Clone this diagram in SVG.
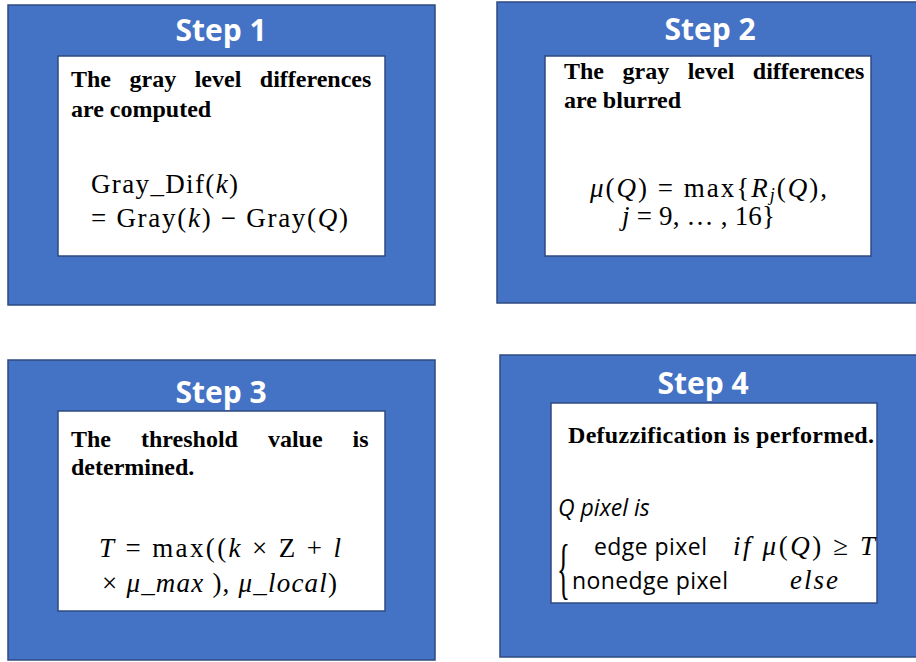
<svg xmlns="http://www.w3.org/2000/svg" width="916" height="662" viewBox="0 0 916 662">
<style>
.outer{fill:#4472C4;stroke:#2F4B80;stroke-width:1.5}
.inner{fill:#FFFFFF;stroke:#2F4B80;stroke-width:1.5}
.title{font-family:"Open Sans","Liberation Sans",sans-serif;font-weight:bold;font-size:30px;fill:#FFFFFF;text-anchor:middle}
.desc{font-family:"Liberation Serif",serif;font-weight:bold;font-size:24px;fill:#000}
.math{font-family:"Liberation Serif",serif;font-size:27px;fill:#000}
.it{font-style:italic}
.sans{font-family:"Open Sans","Liberation Sans",sans-serif;font-size:23px;fill:#000}
</style>
<rect width="916" height="662" fill="#FFFFFF"/>
<g id="step1">
<rect class="outer" x="8" y="5" width="427" height="300"/>
<text class="title" x="221" y="41">Step 1</text>
<rect class="inner" x="58" y="56" width="327" height="200"/>
<text class="desc" x="71" y="87" word-spacing="12.5">The gray level differences</text>
<text class="desc" x="71" y="117">are computed</text>
<text class="math" x="91" y="193" textLength="147" lengthAdjust="spacing">Gray_Dif(<tspan class="it">k</tspan>)</text>
<text class="math" x="91" y="227" textLength="257" lengthAdjust="spacing">= Gray(<tspan class="it">k</tspan>) − Gray(<tspan class="it">Q</tspan>)</text>
</g>
<g id="step2">
<rect class="outer" x="497" y="2" width="425" height="301"/>
<text class="title" x="710" y="40">Step 2</text>
<rect class="inner" x="545" y="56" width="326" height="200"/>
<text class="desc" x="564" y="79" word-spacing="12.5">The gray level differences</text>
<text class="desc" x="564" y="108">are blurred</text>
<text class="math" x="590" y="197" textLength="237" lengthAdjust="spacing"><tspan class="it">μ</tspan>(<tspan class="it">Q</tspan>) = max{<tspan class="it">R</tspan><tspan class="it" font-size="18" dy="4">j</tspan><tspan dy="-4">(</tspan><tspan class="it">Q</tspan>),</text>
<text class="math" x="622" y="225" textLength="153" lengthAdjust="spacing"><tspan class="it">j</tspan> = 9, … , 16}</text>
</g>
<g id="step3">
<rect class="outer" x="8" y="360" width="427" height="300"/>
<text class="title" x="221" y="403">Step 3</text>
<rect class="inner" x="58" y="411" width="327" height="200"/>
<text class="desc" x="71" y="447" word-spacing="24">The threshold value is</text>
<text class="desc" x="71" y="475">determined.</text>
<text class="math" x="99" y="557" textLength="242" lengthAdjust="spacing"><tspan class="it">T</tspan> = max((<tspan class="it">k</tspan> ×  Z + <tspan class="it">l</tspan></text>
<text class="math" x="102" y="592" textLength="235" lengthAdjust="spacing">× <tspan class="it">μ_max</tspan> ), <tspan class="it">μ_local</tspan>)</text>
</g>
<g id="step4">
<rect class="outer" x="500" y="355" width="422" height="302"/>
<text class="title" x="703" y="394">Step 4</text>
<rect class="inner" x="551" y="403" width="326" height="200"/>
<text class="desc" x="568" y="443" textLength="306" lengthAdjust="spacing">Defuzzification is performed.</text>
<text class="sans it" x="558" y="516">Q pixel is</text>
<text class="math" x="0" y="0" transform="translate(557,591) scale(1,2.5)">{</text>
<text class="sans" x="594" y="555" textLength="113" lengthAdjust="spacing">edge pixel</text>
<text class="sans" x="572" y="589" textLength="156" lengthAdjust="spacing">nonedge pixel</text>
<text class="math" x="733" y="555" textLength="142" lengthAdjust="spacing"><tspan class="it">if μ</tspan>(<tspan class="it">Q</tspan>) ≥ <tspan class="it">T</tspan></text>
<text class="math it" x="790" y="589" textLength="48" lengthAdjust="spacing">else</text>
</g>
<g id="connectors"></g>
</svg>
